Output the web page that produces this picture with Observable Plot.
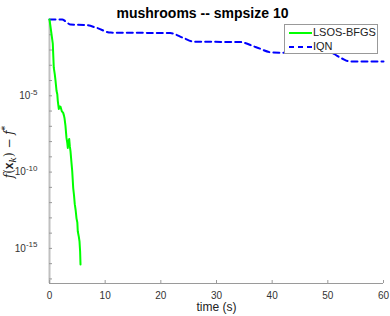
<!DOCTYPE html>
<html>
<head>
<meta charset="utf-8">
<script src="https://cdn.jsdelivr.net/npm/d3@7"></script>
<script src="https://cdn.jsdelivr.net/npm/@observablehq/plot@0.6"></script>
<style>
  body { margin: 0; background: #fff; }
  #wrap { position: relative; width: 390px; height: 316px; font-family: "Liberation Sans", Arial, sans-serif; }
  #legend { position: absolute; left: 284px; top: 24px; width: 92px; height: 28px; border: 1px solid #999; background: #fff; font-size: 11px; color: #222; }
  #legend .row { position: absolute; left: 3px; height: 14px; line-height: 14px; }
  #legend svg { vertical-align: middle; }
  #legend span { position: absolute; left: 25px; top: 0; white-space: nowrap; }
</style>
</head>
<body>
<div id="wrap"></div>
<script>
// ---- data (time in seconds, log10 of f(x_k) - f*) ----
const lsosTime = [0, 0.3, 0.59, 0.77, 0.95, 1.08, 1.26, 1.4, 1.49, 1.67, 1.8, 1.98, 2.2, 2.46, 2.6, 2.69, 2.87, 3.05, 3.2, 3.29, 3.4, 3.54, 3.65, 3.77, 3.95, 4.08, 4.26, 4.4, 4.54, 4.7, 4.85, 5.0, 5.08, 5.25, 5.39, 5.5, 5.57];
const lsosLog  = [0, -0.8, -1.58, -3.16, -3.6, -4.01, -4.67, -4.9, -5.33, -5.86, -5.7, -5.72, -6.0, -6.12, -6.3, -6.45, -6.97, -7.76, -8.1, -8.42, -8.0, -7.83, -8.3, -8.62, -9.4, -9.93, -11.05, -11.5, -12.1, -12.5, -13.03, -13.3, -13.88, -14.2, -14.54, -15.2, -16.05];

const iqnTime = [0, 2.3, 2.8, 3.8, 6.5, 8.5, 11, 21.7, 24, 25.9, 34.3, 37, 40.2, 50.5, 52.5, 54.1, 60];
const iqnLog  = [0, 0, -0.1, -0.33, -0.36, -0.55, -0.86, -0.89, -1.2, -1.45, -1.48, -1.8, -2.17, -2.2, -2.55, -2.76, -2.76];

const seriesNames = ["LSOS-BFGS", "IQN"];
const xTicks = [0, 10, 20, 30, 40, 50, 60];
const yMajorExp = [-5, -10, -15];
const yMinorExp = [0, -1, -2, -3, -4, -5, -6, -7, -8, -9, -10, -11, -12, -13, -14, -15, -16, -17];
const titleText = "mushrooms -- smpsize 10";
const xLabelText = "time (s)";

const lsos = lsosTime.map((t, i) => ({t, v: Math.pow(10, lsosLog[i])}));
const iqn = iqnTime.map((t, i) => ({t, v: Math.pow(10, iqnLog[i])}));
const yMin = Math.pow(10, -17.3);

const axisColor = "#9a9a9a";
const plot = Plot.plot({
  width: 390,
  height: 316,
  marginTop: 19,
  marginBottom: 33,
  marginLeft: 49,
  marginRight: 7,
  style: {fontFamily: "Liberation Sans, Arial, sans-serif", fontSize: "10px", color: "#333", background: "#fff"},
  x: {domain: [0, 60]},
  y: {type: "log", domain: [yMin, 1]},
  marks: [
    Plot.ruleX([0], {stroke: "#c0c0c0", strokeWidth: 2}),
    Plot.ruleY([yMin], {stroke: axisColor, strokeWidth: 1}),
    Plot.axisX({ticks: xTicks, tickSize: -3, tickFormat: () => "", stroke: axisColor, label: null}),
    Plot.axisX({ticks: xTicks, tickSize: 0, tickPadding: 8, tickFormat: d => String(d), label: null}),
    Plot.axisY({ticks: yMinorExp.map(e => Math.pow(10, e)), tickSize: -3, tickFormat: () => "", stroke: axisColor, label: null}),
    Plot.axisY({ticks: yMajorExp.map(e => Math.pow(10, e)), tickSize: 0, tickPadding: 6, tickFormat: d => "10^" + Math.round(Math.log10(d)), label: null}),
    Plot.line(iqn, {x: "t", y: "v", stroke: "#0000ff", strokeWidth: 2, strokeDasharray: "6,4", curve: "monotone-x"}),
    Plot.line(lsos, {x: "t", y: "v", stroke: "#00ff00", strokeWidth: 2}),
    Plot.text([titleText], {frameAnchor: "top", dy: -11, fontSize: 14, fontWeight: "bold", fill: "#000", dx: -14}),
    Plot.text([xLabelText], {frameAnchor: "bottom", dy: 27, fontSize: 12, fill: "#222", dx: 0})
  ]
});
document.getElementById("wrap").appendChild(plot);

// superscripts for tick labels
d3.select(plot).selectAll("text").each(function() {
  const el = d3.select(this);
  const tspans = el.selectAll("tspan");
  const nodes = tspans.size() ? tspans : el;
  nodes.each(function() {
    const n = d3.select(this);
    const s = n.text();
    const m = /^10\^(-?\d+)$/.exec(s);
    if (m) {
      n.text("10");
      n.append("tspan").attr("dy", "-0.55em").attr("font-size", "8px").text(m[1]);
      n.attr("dx", "-6");
    }
  });
});

// y label  f(x_k) − f*
const svg = d3.select(plot);
const yl = svg.append("text")
  .attr("transform", "translate(13,152) rotate(-90)")
  .attr("text-anchor", "middle")
  .attr("font-family", "DejaVu Serif, Liberation Serif, serif")
  .attr("font-size", "12px")
  .attr("fill", "#222");
yl.append("tspan").attr("font-style", "italic").text("f");
yl.append("tspan").text("(");
yl.append("tspan").attr("font-weight", "bold").attr("font-family", "Liberation Sans, Arial, sans-serif").text("x");
yl.append("tspan").attr("font-style", "italic").attr("font-size", "9px").attr("dy", "3").text("k");
yl.append("tspan").attr("dy", "-3").text(") \u2212 ");
yl.append("tspan").attr("font-style", "italic").text("f");
yl.append("tspan").attr("font-size", "9px").attr("dy", "-5").text("*");

// legend
const legend = document.createElement("div");
legend.id = "legend";
const styles = [{stroke: "#00ff00", dash: null}, {stroke: "#0000ff", dash: "5,4"}];
seriesNames.forEach((name, i) => {
  const row = document.createElement("div");
  row.className = "row";
  row.style.top = (i === 0 ? 0 : 14) + "px";
  row.innerHTML = `<svg width="24" height="14"><line x1="1" x2="24" y1="7" y2="7" stroke="${styles[i].stroke}" stroke-width="2" ${styles[i].dash ? `stroke-dasharray="${styles[i].dash}"` : ""}/></svg><span>${name}</span>`;
  legend.appendChild(row);
});
document.getElementById("wrap").appendChild(legend);
</script>
</body>
</html>
